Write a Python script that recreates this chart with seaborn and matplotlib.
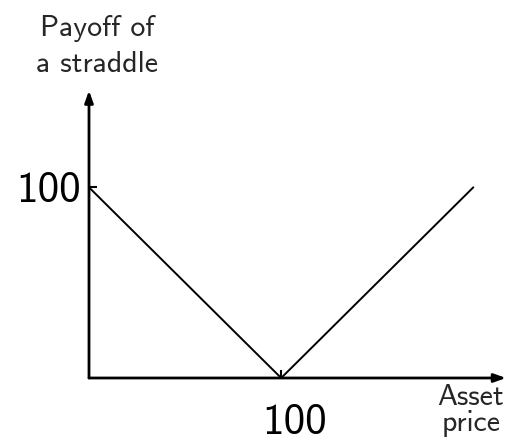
import pandas as pd
import matplotlib
matplotlib.use('Agg')
import matplotlib.pyplot as plt
import matplotlib.transforms as mtransforms
import seaborn as sns

# payoff of a straddle with strike 100
asset_price = [0, 100, 200]
payoff = [100, 0, 100]
x_ticks = [100]
y_ticks = [100]

sns.set_style("white")
plt.rcParams['font.family'] = ['cmss10', 'DejaVu Sans']

df = pd.DataFrame({"price": asset_price, "payoff": payoff})

fig = plt.figure(figsize=(5.08, 4.42), dpi=100)
ax = fig.add_axes([89 / 508, 64 / 442, 417 / 508, 286 / 442])

sns.lineplot(data=df, x="price", y="payoff", color="black", linewidth=1.4, ax=ax)

ax.set_xlim(0, 217)
ax.set_ylim(0, 150)

for side in ["top", "right", "left", "bottom"]:
    ax.spines[side].set_visible(False)

# axes with arrow heads
arrow = dict(arrowstyle="-|>,head_length=0.7,head_width=0.25", color="black",
             linewidth=2, shrinkA=0, shrinkB=0)
ax.annotate("", xy=(1, 0), xytext=(0, 0), xycoords="axes fraction",
            textcoords="axes fraction", arrowprops=arrow, annotation_clip=False)
ax.annotate("", xy=(0, 1.005), xytext=(0, 0), xycoords="axes fraction",
            textcoords="axes fraction", arrowprops=arrow, annotation_clip=False)

ax.set_xticks(x_ticks)
ax.set_yticks(y_ticks)
ax.set_xticklabels([str(v) for v in x_ticks])
ax.set_yticklabels([str(v) for v in y_ticks])
ax.tick_params(axis="both", direction="in", length=6, width=1.5, labelsize=31,
               colors="black", bottom=True, left=True)
ax.tick_params(axis="x", pad=19)
ax.tick_params(axis="y", pad=6)

shift = mtransforms.ScaledTranslation(0.13, 0, fig.dpi_scale_trans)
for lab in ax.get_xticklabels():
    lab.set_transform(lab.get_transform() + shift)

ax.set_xlabel("")
ax.set_ylabel("")
fig.text(97 / 508, 1 - 36 / 442, "Payoff of", ha="center", va="baseline", fontsize=21.5)
fig.text(97 / 508, 1 - 72 / 442, "a straddle", ha="center", va="baseline", fontsize=21.5)
fig.text(471 / 508, 1 - 405 / 442, "Asset", ha="center", va="baseline", fontsize=21.5)
fig.text(471 / 508, 1 - 431 / 442, "price", ha="center", va="baseline", fontsize=21.5)

fig.savefig("out.png", dpi=100)
